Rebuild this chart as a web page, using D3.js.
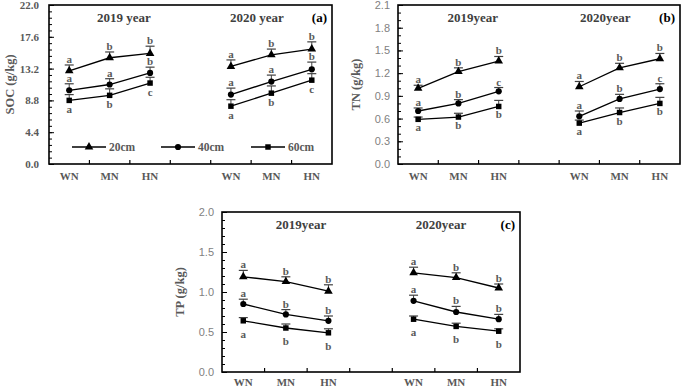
<!DOCTYPE html>
<html>
<head>
<meta charset="utf-8">
<script src="https://cdn.jsdelivr.net/npm/d3@7"></script>
<style>
  body { margin: 0; background: #fff; }
  svg { display: block; }
  .serif { font-family: "Liberation Serif", "Tinos", "Times New Roman", serif; font-weight: bold; }
</style>
</head>
<body>
<div id="chart"></div>
<script>
// categories on the x axis (index 3 is the empty gap between the two years)
const categories = ["WN", "MN", "HN", "", "WN", "MN", "HN"];
const pointSlots = [0, 1, 2, 4, 5, 6];
const depths = ["20cm", "40cm", "60cm"];
const yearTitlesA = ["2019 year", "2020 year"];
const yearTitlesBC = ["2019year", "2020year"];

// SOC (g/kg): 2019 WN MN HN, 2020 WN MN HN
const soc20 = [12.9, 14.7, 15.3, 13.5, 15.1, 15.9];
const soc40 = [10.2, 11.0, 12.6, 9.6, 11.4, 13.1];
const soc60 = [8.8, 9.5, 11.2, 8.0, 9.8, 11.6];
const socErr20 = [0.8, 0.8, 1.0, 0.9, 0.8, 1.0];
const socErr40 = [0.9, 0.8, 0.8, 0.9, 0.9, 1.0];
const socErr60 = [0.8, 0.9, 0.8, 0.9, 1.0, 0.9];
const socLet20 = ["a", "b", "b", "a", "b", "b"];
const socLet40 = ["a", "a", "b", "a", "a", "b"];
const socLet60 = ["a", "b", "c", "a", "b", "c"];

// TN (g/kg)
const tn20 = [1.00, 1.22, 1.36, 1.02, 1.27, 1.39];
const tn40 = [0.70, 0.80, 0.96, 0.63, 0.86, 0.99];
const tn60 = [0.59, 0.62, 0.76, 0.54, 0.68, 0.80];
const tnErr20 = [0.04, 0.05, 0.06, 0.07, 0.06, 0.07];
const tnErr40 = [0.04, 0.05, 0.05, 0.07, 0.06, 0.07];
const tnErr60 = [0.03, 0.05, 0.08, 0.04, 0.06, 0.08];
const tnLet20 = ["a", "b", "b", "a", "b", "b"];
const tnLet40 = ["a", "b", "c", "a", "b", "c"];
const tnLet60 = ["a", "b", "b", "a", "b", "b"];

// TP (g/kg)
const tp20 = [1.19, 1.13, 1.01, 1.24, 1.18, 1.05];
const tp40 = [0.85, 0.72, 0.64, 0.89, 0.75, 0.66];
const tp60 = [0.64, 0.55, 0.49, 0.66, 0.57, 0.51];
const tpErr20 = [0.08, 0.06, 0.08, 0.07, 0.06, 0.05];
const tpErr40 = [0.06, 0.06, 0.06, 0.07, 0.07, 0.06];
const tpErr60 = [0.04, 0.05, 0.05, 0.04, 0.04, 0.03];
const tpLet20 = ["a", "b", "b", "a", "b", "b"];
const tpLet40 = ["a", "b", "b", "a", "b", "b"];
const tpLet60 = ["a", "b", "b", "a", "b", "b"];

const W = 685, H = 388;
const sans = "'Liberation Sans', Arial, sans-serif";
const gray = "#595959";
const symbols = [d3.symbolTriangle, d3.symbolCircle, d3.symbolSquare];
const symSize = [32, 30, 30];

const svg = d3.select("#chart").append("svg")
  .attr("width", W).attr("height", H);

function drawPanel(p) {
  const x = d3.scaleBand().domain(d3.range(categories.length))
    .range([p.x0, p.x1]).padding(0);
  const y = d3.scaleLinear().domain([0, p.max]).range([p.y1, p.y0]);
  const g = svg.append("g");
  const cx = i => x(pointSlots[i]) + x.bandwidth() / 2;

  // minor ticks
  g.append("g").attr("transform", `translate(${p.x0},0)`)
    .call(d3.axisLeft(y).tickValues(d3.range(0, p.max + 1e-9, p.minor)).tickSize(-3).tickFormat(""))
    .call(s => s.select(".domain").remove())
    .selectAll("line").attr("stroke", "#000");

  // major ticks + labels
  const yAx = g.append("g").attr("transform", `translate(${p.x0},0)`)
    .call(d3.axisLeft(y).tickValues(d3.range(0, p.max + 1e-9, p.major))
      .tickSize(-5).tickPadding(p.labelPad).tickFormat(d3.format(".1f")));
  yAx.select(".domain").remove();
  yAx.selectAll("line").attr("stroke", "#000");
  if (p.tickBold) {
    yAx.selectAll("text").attr("class", "serif").attr("fill", gray)
      .style("font-size", "11px");
  } else {
    yAx.selectAll("text").attr("fill", "#7f7f7f")
      .style("font-family", sans).style("font-size", "11px");
  }

  // x ticks at category boundaries, pointing inward
  g.selectAll(".xt").data(d3.range(1, categories.length)).join("line")
    .attr("x1", d => x(d)).attr("x2", d => x(d))
    .attr("y1", p.y1).attr("y2", p.y1 - 4)
    .attr("stroke", "#000").attr("stroke-width", 1.2);

  g.selectAll(".xl").data(categories).join("text")
    .attr("class", "serif")
    .attr("x", (d, i) => x(i) + x.bandwidth() / 2)
    .attr("y", p.y1 + p.xLabOff)
    .attr("text-anchor", "middle")
    .attr("fill", gray)
    .style("font-size", "11px")
    .text(d => d);

  // plot box
  g.append("rect").attr("x", p.x0).attr("y", p.y0)
    .attr("width", p.x1 - p.x0).attr("height", p.y1 - p.y0)
    .attr("fill", "none").attr("stroke", "#000").attr("stroke-width", 1.6);

  // year titles and panel tag
  const titlePos = [0.265, 0.735];
  p.years.forEach((t, k) => {
    g.append("text").attr("class", "serif")
      .attr("x", p.x0 + titlePos[k] * (p.x1 - p.x0))
      .attr("y", p.y0 + 17)
      .attr("text-anchor", "middle").attr("fill", "#404040")
      .style("font-size", "13px")
      .text(t);
  });
  g.append("text").attr("class", "serif").attr("x", p.x1 - 5).attr("y", p.y0 + 17)
    .attr("text-anchor", "end").attr("fill", "#000")
    .style("font-size", "13px")
    .text(p.tag);

  // y title
  g.append("text").attr("class", "serif")
    .attr("transform", `translate(${p.titleX},${(p.y0 + p.y1) / 2}) rotate(-90)`)
    .attr("text-anchor", "middle").attr("fill", gray)
    .style("font-size", "12.5px")
    .text(p.title);

  p.series.forEach((s, k) => {
    // lines per year
    [0, 1].forEach(yr => {
      const idx = [0, 1, 2].map(j => yr * 3 + j);
      g.append("path")
        .attr("d", d3.line().x(i => cx(i)).y(i => y(s.v[i]))(idx))
        .attr("fill", "none").attr("stroke", "#000").attr("stroke-width", 1.3);
    });
    // error bars (plus direction)
    s.v.forEach((v, i) => {
      const top = y(v + s.e[i]);
      g.append("line").attr("x1", cx(i)).attr("x2", cx(i))
        .attr("y1", y(v)).attr("y2", top)
        .attr("stroke", "#404040").attr("stroke-width", 1);
      g.append("line").attr("x1", cx(i) - 4.5).attr("x2", cx(i) + 4.5)
        .attr("y1", top).attr("y2", top)
        .attr("stroke", "#404040").attr("stroke-width", 1.2);
    });
    // markers
    g.selectAll(null).data(s.v).join("path")
      .attr("transform", (d, i) => `translate(${cx(i)},${y(d)})`)
      .attr("d", d3.symbol().type(symbols[k]).size(symSize[k]))
      .attr("fill", "#000");
    // significance letters
    g.selectAll(null).data(s.v).join("text")
      .attr("class", "serif")
      .attr("x", (d, i) => cx(i))
      .attr("y", (d, i) => s.below ? y(d) + p.belowOff : y(d + s.e[i]) - 2)
      .attr("text-anchor", "middle").attr("fill", gray)
      .style("font-size", "11px")
      .text((d, i) => s.l[i]);
  });

  if (p.legend) {
    const ly = p.y1 - 17;
    const lx = [72, 161, 251];
    depths.forEach((name, k) => {
      g.append("line").attr("x1", lx[k]).attr("x2", lx[k] + 34)
        .attr("y1", ly).attr("y2", ly).attr("stroke", "#000").attr("stroke-width", 1.3);
      g.append("path").attr("transform", `translate(${lx[k] + 17},${ly})`)
        .attr("d", d3.symbol().type(symbols[k]).size(symSize[k])).attr("fill", "#000");
      g.append("text").attr("class", "serif").attr("x", lx[k] + 37).attr("y", ly + 4)
        .attr("fill", gray)
        .style("font-size", "11.5px")
        .text(name);
    });
  }
}

drawPanel({
  x0: 49, x1: 332, y0: 5, y1: 164, max: 22, major: 4.4, minor: 0.88,
  tickBold: true, labelPad: 10, titleX: 14, title: "SOC (g/kg)", tag: "(a)",
  years: yearTitlesA, legend: true, belowOff: 13, xLabOff: 16,
  series: [
    { v: soc20, e: socErr20, l: socLet20 },
    { v: soc40, e: socErr40, l: socLet40 },
    { v: soc60, e: socErr60, l: socLet60, below: true }
  ]
});

drawPanel({
  x0: 398, x1: 680, y0: 5, y1: 164, max: 2.1, major: 0.3, minor: 0.1,
  tickBold: false, labelPad: 8, titleX: 360, title: "TN (g/kg)", tag: "(b)",
  years: yearTitlesBC, legend: false, belowOff: 12, xLabOff: 16,
  series: [
    { v: tn20, e: tnErr20, l: tnLet20 },
    { v: tn40, e: tnErr40, l: tnLet40 },
    { v: tn60, e: tnErr60, l: tnLet60, below: true }
  ]
});

drawPanel({
  x0: 222, x1: 520, y0: 212, y1: 372, max: 2.0, major: 0.5, minor: 0.1,
  tickBold: false, labelPad: 8, titleX: 184, title: "TP (g/kg)", tag: "(c)",
  years: yearTitlesBC, legend: false, belowOff: 17, xLabOff: 14,
  series: [
    { v: tp20, e: tpErr20, l: tpLet20 },
    { v: tp40, e: tpErr40, l: tpLet40 },
    { v: tp60, e: tpErr60, l: tpLet60, below: true }
  ]
});
</script>
</body>
</html>
